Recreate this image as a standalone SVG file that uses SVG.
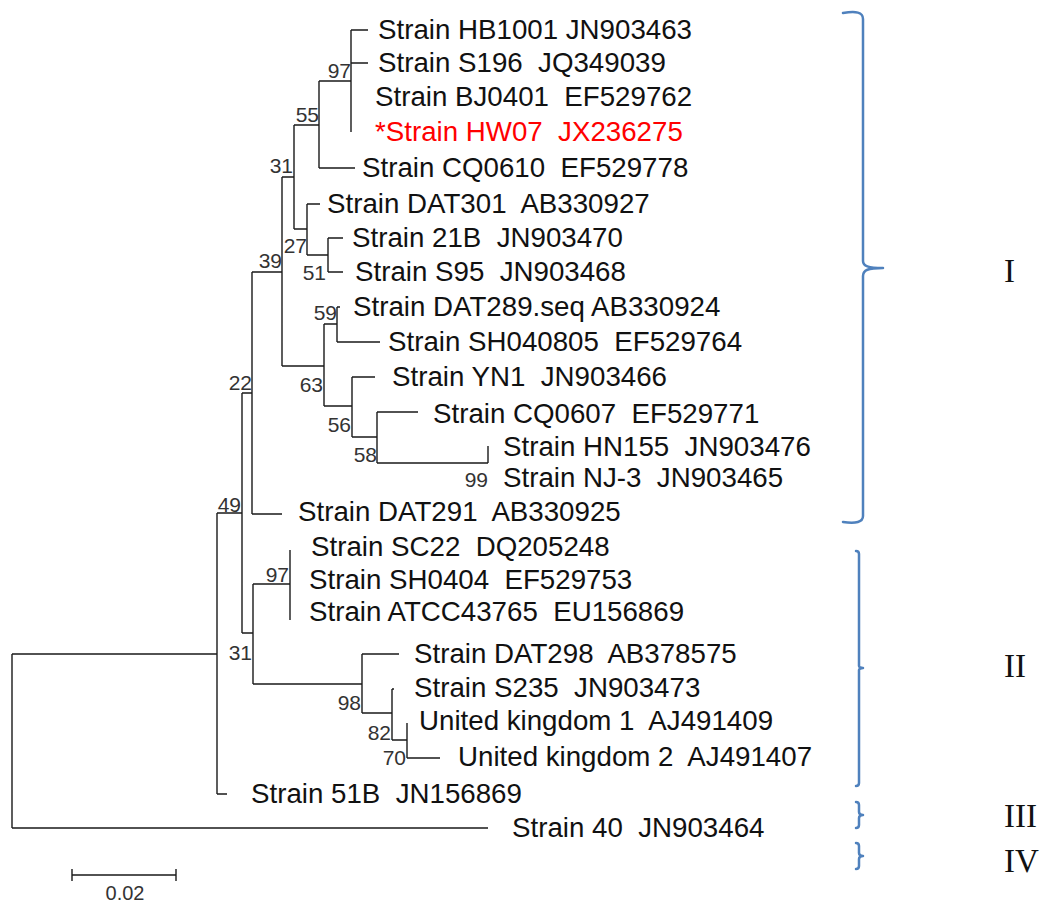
<svg xmlns="http://www.w3.org/2000/svg" width="1040" height="902" viewBox="0 0 1040 902" xml:space="preserve">
<style>
.br{fill:none;stroke:#1a1a1a;stroke-width:1.4}
.lf{font-family:"Liberation Sans",Arial,sans-serif;font-size:27.7px;fill:#111;white-space:pre}
.red{fill:#ff0000}
.bs{font-family:"Liberation Sans",Arial,sans-serif;font-size:21px;fill:#333;text-anchor:end}
.sc{font-family:"Liberation Sans",Arial,sans-serif;font-size:20px;fill:#333;text-anchor:middle}
.rn{font-family:"Liberation Serif","Times New Roman",serif;font-size:33px;fill:#111}
.cb{fill:none;stroke:#4f81bd;stroke-width:2.5;stroke-linecap:round}
</style>
<rect width="1040" height="902" fill="#fff"/>
<g id="connectors">
<path class="br" d="M351,30V132M351,30H368M351,63H368
M319,81V168M319,81H351M319,168H355
M294,125V229M294,125H319M294,229H307
M307,204V255M307,204H320M307,255H328
M328,238V272M328,238H343M328,272H343
M282,177V366M282,177H294M282,366H324
M324,324V406M324,324H337M324,406H352
M337,307V342M337,307H340M337,342H380
M352,377V437M352,377H375M352,437H377
M377,412V463M377,412H418M377,463H488
M488,446V463
M252,272V514M252,272H282M252,514H282
M242,393V633M242,393H252M242,633H253
M253,584V684M253,584H290M253,684H362
M290,550V620
M362,654V713M362,654H399M362,713H392
M392,689V740M392,689H394M392,740H407
M407,723V758M407,758H440
M217,513V794M217,513H242M217,794H227
M12,654V828M12,654H217M12,828H488"/>
</g>
<g id="scalebar">
<path class="br" d="M72,875H176M72,869V881M176,869V881"/>
<text class="sc" x="125" y="900">0.02</text>
</g>
<g id="bootstrap">
<text class="bs" x="351" y="78">97</text>
<text class="bs" x="319" y="122">55</text>
<text class="bs" x="293" y="173">31</text>
<text class="bs" x="307" y="253">27</text>
<text class="bs" x="326" y="280">51</text>
<text class="bs" x="282" y="268">39</text>
<text class="bs" x="337" y="320">59</text>
<text class="bs" x="323" y="392">63</text>
<text class="bs" x="351" y="432">56</text>
<text class="bs" x="377" y="462">58</text>
<text class="bs" x="488" y="487">99</text>
<text class="bs" x="252" y="390">22</text>
<text class="bs" x="241" y="512">49</text>
<text class="bs" x="289" y="582">97</text>
<text class="bs" x="252" y="660">31</text>
<text class="bs" x="361" y="710">98</text>
<text class="bs" x="391" y="740">82</text>
<text class="bs" x="406" y="765">70</text>
</g>
<g id="leaf-HB1001"><text class="lf" x="378" y="39">Strain HB1001 JN903463</text></g>
<g id="leaf-S196"><text class="lf" x="378" y="72">Strain S196  JQ349039</text></g>
<g id="leaf-BJ0401"><text class="lf" x="375" y="106">Strain BJ0401  EF529762</text></g>
<g id="leaf-HW07"><text class="lf red" x="375" y="141">*Strain HW07  JX236275</text></g>
<g id="leaf-CQ0610"><text class="lf" x="362" y="177">Strain CQ0610  EF529778</text></g>
<g id="leaf-DAT301"><text class="lf" x="327" y="213">Strain DAT301  AB330927</text></g>
<g id="leaf-21B"><text class="lf" x="352" y="247">Strain 21B  JN903470</text></g>
<g id="leaf-S95"><text class="lf" x="355" y="281">Strain S95  JN903468</text></g>
<g id="leaf-DAT289"><text class="lf" x="353" y="316">Strain DAT289.seq AB330924</text></g>
<g id="leaf-SH040805"><text class="lf" x="388" y="351">Strain SH040805  EF529764</text></g>
<g id="leaf-YN1"><text class="lf" x="392" y="386">Strain YN1  JN903466</text></g>
<g id="leaf-CQ0607"><text class="lf" x="433" y="423">Strain CQ0607  EF529771</text></g>
<g id="leaf-HN155"><text class="lf" x="503" y="456">Strain HN155  JN903476</text></g>
<g id="leaf-NJ3"><text class="lf" x="503" y="487">Strain NJ-3  JN903465</text></g>
<g id="leaf-DAT291"><text class="lf" x="298" y="521">Strain DAT291  AB330925</text></g>
<g id="leaf-SC22"><text class="lf" x="311" y="556">Strain SC22  DQ205248</text></g>
<g id="leaf-SH0404"><text class="lf" x="309" y="589">Strain SH0404  EF529753</text></g>
<g id="leaf-ATCC43765"><text class="lf" x="309" y="621">Strain ATCC43765  EU156869</text></g>
<g id="leaf-DAT298"><text class="lf" x="414" y="663">Strain DAT298  AB378575</text></g>
<g id="leaf-S235"><text class="lf" x="414" y="697">Strain S235  JN903473</text></g>
<g id="leaf-UK1"><text class="lf" x="419" y="730">United kingdom 1  AJ491409</text></g>
<g id="leaf-UK2"><text class="lf" x="458" y="766">United kingdom 2  AJ491407</text></g>
<g id="leaf-51B"><text class="lf" x="251" y="803">Strain 51B  JN156869</text></g>
<g id="leaf-40"><text class="lf" x="512" y="837">Strain 40  JN903464</text></g>
<g id="clade-I">
<path class="cb" d="M843,13C856,11 863,12 863,19V261C863,266 868,268 883,268M883,268C868,268 863,270 863,276V516C863,522 856,524 843,522"/>
<text class="rn" x="1004" y="282">I</text>
</g>
<g id="clade-II">
<path class="cb" d="M856,551C858,551 859,552 859,554V666C859,667 861,668 863,668M863,668C861,668 859,669 859,670V783C859,785 858,786 856,786"/>
<text class="rn" x="1004" y="677">II</text>
</g>
<g id="clade-III">
<path class="cb" d="M856,802C858,802 859,803 859,805V812C859,814 861,815 863,815M863,815C861,815 859,816 859,818V825C859,827 858,828 856,828"/>
<text class="rn" x="1004" y="827">III</text>
</g>
<g id="clade-IV">
<path class="cb" d="M856,843C858,843 859,844 859,846V853C859,855 861,856 863,856M863,856C861,856 859,857 859,859V866C859,868 858,869 856,869"/>
<text class="rn" x="1004" y="872">IV</text>
</g>
</svg>
